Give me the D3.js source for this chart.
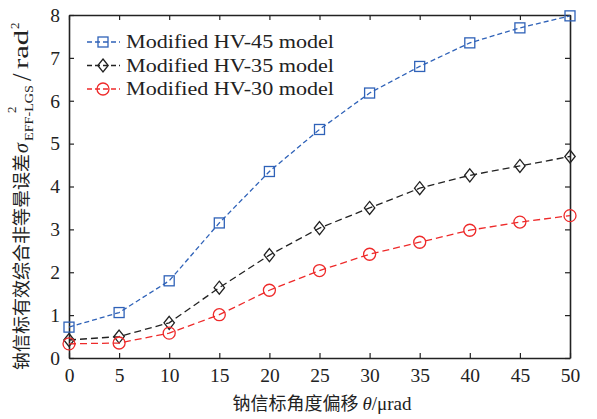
<!DOCTYPE html>
<html>
<head>
<meta charset="utf-8">
<script src="https://cdn.jsdelivr.net/npm/d3@7"></script>
<style>
  html, body { margin: 0; padding: 0; background: #fff; }
  svg { display: block; }
</style>
</head>
<body>
<svg id="chart" width="597" height="419"></svg>
<script>
// Beacon angular offset (µrad)
const offsets = [0, 5, 10, 15, 20, 25, 30, 35, 40, 45, 50];
// Effective combined anisoplanatic error variance (rad^2) per model
const hv45 = [0.72, 1.06, 1.80, 3.15, 4.35, 5.33, 6.18, 6.80, 7.35, 7.70, 7.98];
const hv35 = [0.42, 0.50, 0.82, 1.64, 2.40, 3.03, 3.50, 3.96, 4.26, 4.48, 4.70];
const hv30 = [0.33, 0.35, 0.58, 1.01, 1.58, 2.04, 2.42, 2.70, 2.98, 3.17, 3.32];
const seriesNames = ["Modified HV-45 model", "Modified HV-35 model", "Modified HV-30 model"];
const xTicks = [0, 5, 10, 15, 20, 25, 30, 35, 40, 45, 50];
const yTicks = [0, 1, 2, 3, 4, 5, 6, 7, 8];

const series = [
  { name: seriesNames[0], values: hv45, color: "#2f62b8", marker: "square", dash: "5,3" },
  { name: seriesNames[1], values: hv35, color: "#222222", marker: "diamond", dash: "7,4" },
  { name: seriesNames[2], values: hv30, color: "#ee2a2a", marker: "circle", dash: "7,4" }
];

const svg = d3.select("#chart");
const m = { left: 69, right: 570, top: 15, bottom: 358 };
const x = d3.scaleLinear().domain([0, 50]).range([m.left, m.right]);
const y = d3.scaleLinear().domain([0, 8]).range([m.bottom, m.top]);

const serif = "'Liberation Serif', 'DejaVu Serif', serif";
const cjk = "'Noto Sans CJK SC', sans-serif";

// Axes with inward ticks on all four sides
const tickLen = 5;
const axB = svg.append("g").attr("transform", `translate(0,${m.bottom})`)
  .call(d3.axisBottom(x).tickValues(xTicks).tickSizeInner(-tickLen).tickSizeOuter(0).tickPadding(10));
const axT = svg.append("g").attr("transform", `translate(0,${m.top})`)
  .call(d3.axisTop(x).tickValues(xTicks).tickSizeInner(-tickLen).tickSizeOuter(0).tickFormat(""));
const axL = svg.append("g").attr("transform", `translate(${m.left},0)`)
  .call(d3.axisLeft(y).tickValues(yTicks).tickSizeInner(-tickLen).tickSizeOuter(0).tickPadding(9));
const axR = svg.append("g").attr("transform", `translate(${m.right},0)`)
  .call(d3.axisRight(y).tickValues(yTicks).tickSizeInner(-tickLen).tickSizeOuter(0).tickFormat(""));

[axB, axT, axL, axR].forEach(g => {
  g.select(".domain").attr("stroke", "#222").attr("stroke-width", 1.6);
  g.selectAll(".tick line").attr("stroke", "#222").attr("stroke-width", 1.2);
  g.selectAll(".tick text").attr("fill", "#222").style("font-size", "19.5px").style("font-family", serif);
});

// Series lines and markers
const line = d3.line().x((d, i) => x(offsets[i])).y(d => y(d));

function drawMarker(g, type, cx, cy, color) {
  if (type === "square") {
    g.append("rect").attr("x", cx - 5).attr("y", cy - 5).attr("width", 10).attr("height", 10)
      .attr("fill", "none").attr("stroke", color).attr("stroke-width", 1.3);
  } else if (type === "diamond") {
    const r = 6.5;
    g.append("path").attr("d", `M${cx},${cy - r}L${cx + r * 0.8},${cy}L${cx},${cy + r}L${cx - r * 0.8},${cy}Z`)
      .attr("fill", "none").attr("stroke", color).attr("stroke-width", 1.3);
  } else {
    g.append("circle").attr("cx", cx).attr("cy", cy).attr("r", 6)
      .attr("fill", "none").attr("stroke", color).attr("stroke-width", 1.3);
  }
}

series.forEach(s => {
  const g = svg.append("g");
  g.append("path").datum(s.values).attr("d", line)
    .attr("fill", "none").attr("stroke", s.color).attr("stroke-width", 1.3)
    .attr("stroke-dasharray", s.dash);
  s.values.forEach((v, i) => drawMarker(g, s.marker, x(offsets[i]), y(v), s.color));
});

// Legend
const legend = svg.append("g");
series.forEach((s, i) => {
  const ly = 42 + i * 23.5;
  legend.append("line").attr("x1", 87).attr("x2", 120).attr("y1", ly).attr("y2", ly)
    .attr("stroke", s.color).attr("stroke-width", 1.3).attr("stroke-dasharray", "5,3");
  drawMarker(legend, s.marker, 103, ly, s.color);
  legend.append("text").attr("x", 126).attr("y", ly + 6)
    .attr("font-family", serif).attr("font-size", 18.5).attr("fill", "#222")
    .attr("textLength", 208).attr("lengthAdjust", "spacingAndGlyphs")
    .text(s.name);
});

// X axis title
const xt = svg.append("text").attr("x", 322).attr("y", 410).attr("text-anchor", "middle")
  .attr("fill", "#222").attr("font-size", 18);
xt.append("tspan").attr("font-family", cjk).text("钠信标角度偏移 ");
xt.append("tspan").attr("font-family", serif).attr("font-style", "italic").attr("font-size", 19).text("θ");
xt.append("tspan").attr("font-family", serif).attr("font-size", 19).text("/μrad");

// Y axis title, laid out along the rotated baseline
const yg = svg.append("g").attr("transform", "translate(28,0) rotate(-90)");
yg.append("text").attr("x", -370).attr("y", 0).attr("font-family", cjk).attr("font-size", 18)
  .attr("fill", "#222").attr("textLength", 216).attr("lengthAdjust", "spacingAndGlyphs")
  .text("钠信标有效综合非等晕误差");
yg.append("text").attr("x", -153).attr("y", 0).attr("font-family", serif).attr("font-style", "italic")
  .attr("font-size", 20).attr("fill", "#222").text("σ");
yg.append("text").attr("x", -141).attr("y", 5).attr("font-family", serif).attr("font-size", 12.5)
  .attr("fill", "#222").attr("textLength", 56).attr("lengthAdjust", "spacingAndGlyphs").text("EFF-LGS");
yg.append("text").attr("x", -113).attr("y", -12).attr("font-family", serif).attr("font-size", 13)
  .attr("fill", "#222").text("2");
yg.append("text").attr("x", -81).attr("y", 3).attr("font-family", serif).attr("font-size", 27)
  .attr("fill", "#222").text("/");
yg.append("text").attr("x", -69).attr("y", 0).attr("font-family", serif).attr("font-size", 21)
  .attr("fill", "#222").attr("textLength", 39).attr("lengthAdjust", "spacingAndGlyphs").text("rad");
yg.append("text").attr("x", -29).attr("y", -9).attr("font-family", serif).attr("font-size", 13)
  .attr("fill", "#222").text("2");
</script>
</body>
</html>
